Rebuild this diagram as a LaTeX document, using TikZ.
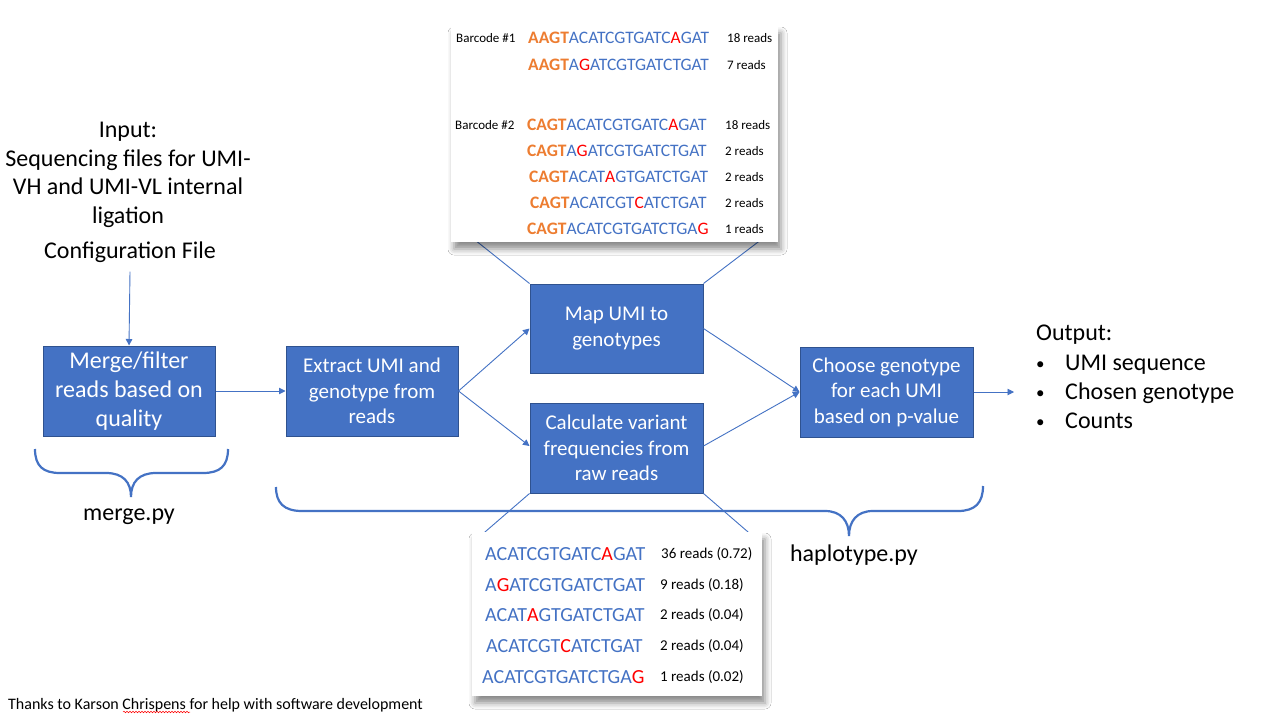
\documentclass[tikz,border=0pt]{standalone}
\usepackage{fontspec}
\setmainfont{Carlito}
\usetikzlibrary{arrows.meta,shadows.blur,decorations.pathmorphing}
\definecolor{boxblue}{HTML}{4472C4}
\definecolor{boxedge}{HTML}{2F528F}
\definecolor{seqblue}{HTML}{4472C4}
\definecolor{seqorange}{HTML}{ED7D31}
\definecolor{seqred}{HTML}{FF0000}
\newcommand{\bcd}[1]{\textcolor{seqorange}{\bfseries #1}}
\newcommand{\mut}[1]{\textcolor{seqred}{#1}}
\newcommand{\fsz}[2]{\fontsize{#1}{#2}\selectfont}
\newcommand{\bul}{\makebox[29pt][l]{\raisebox{1pt}{\fsz{17}{20}\textbullet}}}
\tikzset{
  procbox/.style={draw=boxedge, line width=1pt, fill=boxblue, text=white, align=center, inner sep=0pt, font=\fsz{21}{25.5}},
  conn/.style={draw=boxblue, line width=0.9pt},
  arr/.style={conn, -{Triangle[width=6.5pt,length=6.5pt]}},
  bracepath/.style={draw=boxblue, line width=2.2pt},
  callout/.style={fill=white, draw=none, inner sep=0pt, blur shadow={shadow xshift=3pt, shadow yshift=-7pt, shadow blur radius=6pt, shadow opacity=45}},
  lbl/.style={inner sep=0pt, text=black},
  seqtxt/.style={inner sep=0pt, text=seqblue},
}
\begin{document}
\begin{tikzpicture}[x=1pt,y=-1pt]
\useasboundingbox (0,0) rectangle (1280,720);
\fill[white] (0,0) rectangle (1280,720);

% input texts
\node[lbl, align=center, font=\fsz{24}{28.5}] (input) at (128,175) {Input:\\Sequencing files for UMI-\\VH and UMI-VL internal\\ligation};
\node[lbl, font=\fsz{24}{28}] (config) at (130,252) {Configuration File};

% process boxes
\node[procbox, minimum width=172pt, minimum height=90pt, font=\fsz{24}{29}] (merge) at (129,391) {\raisebox{-3pt}{\parbox{170pt}{\centering Merge/filter\\reads based on\\quality}}};
\node[procbox, minimum width=172pt, minimum height=90pt] (extract) at (372,391) {Extract UMI and\\genotype from\\reads};
\node[procbox, minimum width=173pt, minimum height=89pt] (map) at (616.5,328.5) {Map UMI to\\genotypes};
\node[procbox, minimum width=173pt, minimum height=90pt] (calc) at (616.5,448) {Calculate variant\\frequencies from\\raw reads};
\node[procbox, minimum width=173pt, minimum height=90pt] (choose) at (886.5,392) {Choose genotype\\for each UMI\\based on p-value};

% output
\node[lbl, anchor=west, align=left, font=\fsz{24}{29.3}] (output) at (1036,377) {Output:\\\bul UMI sequence\\\bul Chosen genotype\\\bul Counts};
\coordinate (outin) at (1014,392);

% connectors
\draw[arr] ([yshift=-9pt]config.south) -- (merge.north);
\draw[arr] (merge.east) -- (extract.west);
\draw[arr] (extract.east) -- (map.west);
\draw[arr] (extract.east) -- ([yshift=2pt]calc.west);
\draw[arr] (map.east) -- (choose.west);
\draw[arr] ([yshift=2pt]calc.east) -- (choose.west);
\draw[arr] (choose.east) -- (outin);

% braces
\draw[bracepath] (35,449) .. controls (35,466) and (43,473) .. (60,473) -- (106,473)
  .. controls (123,473) and (131,482) .. (131,497)
  .. controls (131,482) and (139,473) .. (156,473) -- (203,473)
  .. controls (220,473) and (228,466) .. (228,449);
\draw[bracepath] (276,487) .. controls (276,503) and (284,511) .. (302,511) -- (825,511)
  .. controls (841,511) and (849,521) .. (849,536)
  .. controls (849,521) and (857,511) .. (873,511) -- (958,511)
  .. controls (975,511) and (983,503) .. (983,486);
\node[lbl, font=\fsz{24}{28}] (mergepy) at (129,517) {merge.py};
\node[lbl, font=\fsz{24}{28}] (haplopy) at (854,555) {haplotype.py};

% callout leader lines
\coordinate (tl) at (470,236);
\coordinate (tr) at (766,236);
\coordinate (bl) at (478,538);
\coordinate (br) at (755,538);
\draw[conn] (map.north west) -- (tl);
\draw[conn] (map.north east) -- (tr);
\draw[conn] (calc.south west) -- (bl);
\draw[conn] (calc.south east) -- (br);

% top callout
\node[callout, minimum width=327pt, minimum height=216pt] (topcall) at (614.5,134) {};
\node[lbl, anchor=west, font=\fsz{13}{15}] (bc1) at (456,38) {Barcode \#1};
\node[lbl, anchor=west, font=\fsz{13}{15}] (bc2) at (455,125) {Barcode \#2};
\node[seqtxt, anchor=west, font=\fsz{17.5}{20}] (t1) at (528,38) {\bcd{AAGT}ACATCGTGATC\mut{A}GAT};
\node[seqtxt, anchor=west, font=\fsz{17.5}{20}] (t2) at (528,65) {\bcd{AAGT}A\mut{G}ATCGTGATCTGAT};
\node[seqtxt, anchor=west, font=\fsz{17.5}{20}] (t3) at (527,125) {\bcd{CAGT}ACATCGTGATC\mut{A}GAT};
\node[seqtxt, anchor=west, font=\fsz{17.5}{20}] (t4) at (527,151) {\bcd{CAGT}A\mut{G}ATCGTGATCTGAT};
\node[seqtxt, anchor=west, font=\fsz{17.5}{20}] (t5) at (529,177) {\bcd{CAGT}ACAT\mut{A}GTGATCTGAT};
\node[seqtxt, anchor=west, font=\fsz{17.5}{20}] (t6) at (530,203) {\bcd{CAGT}ACATCGT\mut{C}ATCTGAT};
\node[seqtxt, anchor=west, font=\fsz{17.5}{20}] (t7) at (527,229) {\bcd{CAGT}ACATCGTGATCTGA\mut{G}};
\node[lbl, anchor=west, font=\fsz{13}{15}] (r1) at (727,38) {18 reads};
\node[lbl, anchor=west, font=\fsz{13}{15}] (r2) at (727,65) {7 reads};
\node[lbl, anchor=west, font=\fsz{13}{15}] (r3) at (725,125) {18 reads};
\node[lbl, anchor=west, font=\fsz{13}{15}] (r4) at (725,151) {2 reads};
\node[lbl, anchor=west, font=\fsz{13}{15}] (r5) at (725,177) {2 reads};
\node[lbl, anchor=west, font=\fsz{13}{15}] (r6) at (725,203) {2 reads};
\node[lbl, anchor=west, font=\fsz{13}{15}] (r7) at (725,229) {1 reads};

% bottom callout
\node[callout, minimum width=290pt, minimum height=164pt] (botcall) at (617,614) {};
\node[seqtxt, anchor=west, font=\fsz{20}{24}] (b1) at (485,554) {ACATCGTGATC\mut{A}GAT};
\node[seqtxt, anchor=west, font=\fsz{20}{24}] (b2) at (485,585) {A\mut{G}ATCGTGATCTGAT};
\node[seqtxt, anchor=west, font=\fsz{20}{24}] (b3) at (485,615) {ACAT\mut{A}GTGATCTGAT};
\node[seqtxt, anchor=west, font=\fsz{20}{24}] (b4) at (486,646) {ACATCGT\mut{C}ATCTGAT};
\node[seqtxt, anchor=west, font=\fsz{20}{24}] (b5) at (482,677) {ACATCGTGATCTGA\mut{G}};
\node[lbl, anchor=west, font=\fsz{15}{18}] (q1) at (661,554) {36 reads (0.72)};
\node[lbl, anchor=west, font=\fsz{15}{18}] (q2) at (660,585) {9 reads (0.18)};
\node[lbl, anchor=west, font=\fsz{15}{18}] (q3) at (660,615) {2 reads (0.04)};
\node[lbl, anchor=west, font=\fsz{15}{18}] (q4) at (660,646) {2 reads (0.04)};
\node[lbl, anchor=west, font=\fsz{15}{18}] (q5) at (660,677) {1 reads (0.02)};

% footer
\node[lbl, anchor=west, font=\fsz{16}{19}] (thanks) at (8,705) {Thanks to Karson Chrispens for help with software development};
\draw[seqred, line width=0.5pt, decorate, decoration={snake, segment length=3pt, amplitude=0.8pt}] (123,712) -- (190,712);
\end{tikzpicture}
\end{document}
